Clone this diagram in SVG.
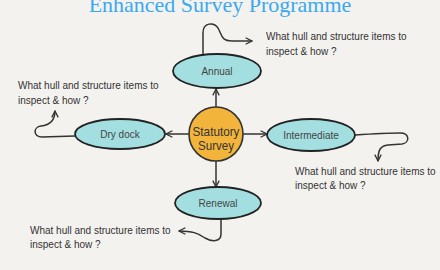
<svg xmlns="http://www.w3.org/2000/svg" width="440" height="270" viewBox="0 0 440 270">
<style>
.bg{fill:#f4f2ef}
.ell{fill:#a3dfe0;stroke:#222;stroke-width:1.8}
.circ{fill:#f3b43c;stroke:#333;stroke-width:1.6}
.lbl{font-family:"Liberation Sans",Arial,sans-serif;font-size:10px;fill:#444;text-anchor:middle}
.ctr{font-family:"Liberation Sans",Arial,sans-serif;font-size:13.5px;fill:#333;text-anchor:middle}
.note{font-family:"Liberation Sans",Arial,sans-serif;font-size:10px;fill:#333}
.title{font-family:"Liberation Serif","Times New Roman",serif;font-size:22px;fill:#3aa9ef;text-anchor:middle}
.con{fill:none;stroke:#333;stroke-width:1.5;marker-end:url(#ah)}
</style>
<defs>
<marker id="ah" viewBox="0 0 10 10" refX="9" refY="5" markerWidth="8" markerHeight="8" markerUnits="userSpaceOnUse" orient="auto">
<path d="M1,1 L9,5 L1,9" fill="none" stroke="#333" stroke-width="1.6"/>
</marker>
</defs>
<rect class="bg" x="0" y="0" width="440" height="270"/>
<text class="title" x="220" y="12">Enhanced Survey Programme</text>
<g id="connectors">
<path class="con" d="M216,107 L216,89"/>
<path class="con" d="M189,134 L166,134"/>
<path class="con" d="M243,134 L267,134"/>
<path class="con" d="M216,161 L216,187"/>
<path class="con" d="M203,54 L203,33 C203,22 214,22 218,28 C222,35 221,41 232,41 L252,41"/>
<path class="con" d="M75,136 L42,137 C33,137 33,127 41,126 C50,125 55,121 55,111"/>
<path class="con" d="M355,135 C370,134 385,133 400,133 C410,133 410,143 402,144 L388,145 C380,146 378,150 378,161"/>
<path class="con" d="M221,219 L221,234 C221,242 212,242 205,238 C198,233 192,231 179,231"/>
</g>
<g id="statutory">
<circle class="circ" cx="216" cy="134" r="27"/>
<text class="ctr" x="216" y="136" textLength="47" lengthAdjust="spacingAndGlyphs">Statutory</text>
<text class="ctr" x="216" y="149.5" textLength="36" lengthAdjust="spacingAndGlyphs">Survey</text>
</g>
<g id="annual">
<ellipse class="ell" cx="217" cy="71" rx="44" ry="17"/>
<text class="lbl" x="217" y="75">Annual</text>
</g>
<g id="drydock">
<ellipse class="ell" cx="120" cy="134" rx="45" ry="15"/>
<text class="lbl" x="120" y="138">Dry dock</text>
</g>
<g id="intermediate">
<ellipse class="ell" cx="311" cy="135" rx="44" ry="16"/>
<text class="lbl" x="311" y="139">Intermediate</text>
</g>
<g id="renewal">
<ellipse class="ell" cx="218" cy="203" rx="43" ry="16"/>
<text class="lbl" x="218" y="207">Renewal</text>
</g>
<g id="note-annual">
<text class="note" x="266" y="40">What hull and structure items to</text>
<text class="note" x="266" y="55">inspect &amp; how ?</text>
</g>
<g id="note-drydock">
<text class="note" x="18" y="89">What hull and structure items to</text>
<text class="note" x="18" y="104">inspect &amp; how ?</text>
</g>
<g id="note-intermediate">
<text class="note" x="295" y="175">What hull and structure items to</text>
<text class="note" x="295" y="189">inspect &amp; how ?</text>
</g>
<g id="note-renewal">
<text class="note" x="30" y="234">What hull and structure items to</text>
<text class="note" x="30" y="248">inspect &amp; how ?</text>
</g>
</svg>
